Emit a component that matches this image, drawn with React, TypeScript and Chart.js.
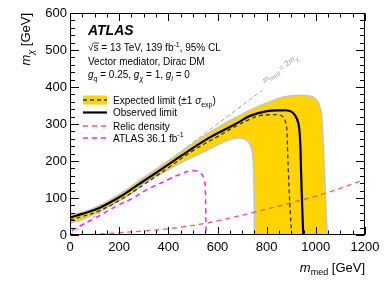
import React, { useEffect, useRef } from 'react';
import { Chart, registerables } from 'chart.js';
Chart.register(...registerables);

const FONT = '"Liberation Sans", Arial, Helvetica, sans-serif';

// Axis ticks
const xTickValues = [0, 200, 400, 600, 800, 1000, 1200];
const yTickValues = [0, 100, 200, 300, 400, 500, 600];
const xMinorStep = 50;
const yMinorStep = 20;

// Observed limit (m_med, m_chi)
const observedMed = [0, 50, 119, 200, 255, 300, 386, 450, 542, 600, 679, 732, 801, 860, 895, 915, 929, 936, 940, 945, 949];
const observedChi = [47, 57, 73, 102, 126, 146, 184, 213, 253, 275, 302, 322, 335, 337, 335, 324, 302, 257, 170, 68, 0];

// Expected limit
const expectedMed = [0, 50, 119, 200, 300, 400, 500, 600, 680, 732, 773, 820, 854, 867, 877, 882, 885, 889, 893, 897, 902];
const expectedChi = [40, 50, 65, 93, 136, 182, 228, 266, 296, 313, 323, 325, 324, 319, 305, 284, 230, 160, 100, 50, 0];

// +-1 sigma band outline (outer edge, then inner edge back)
const bandMed = [0, 60, 119, 200, 255, 300, 386, 450, 542, 600, 679, 750, 814, 867, 936, 989, 1009, 1020, 1026, 1033, 1038, 1046, 1047, 749, 750, 749, 747, 744, 736, 720, 690, 640, 542, 450, 386, 300, 252, 200, 115, 50, 0];
const bandChi = [54, 63, 79, 110, 134, 155, 194, 224, 266, 290, 319, 343, 360, 373, 378, 373, 359, 338, 303, 211, 122, 0, -15, -15, 0, 100, 170, 210, 240, 256, 262, 255, 224, 195, 171, 140, 113, 93, 62, 42, 31];

// Relic density
const relicMed = [50, 150, 300, 450, 600, 750, 900, 1050, 1200];
const relicChi = [0, 4, 11, 21, 38, 62, 87, 115, 150];

// ATLAS 36.1 fb-1
const prevMed = [8, 50, 100, 200, 255, 300, 400, 450, 502, 532, 545, 550, 552, 553];
const prevChi = [12, 28, 45, 82, 99, 118, 150, 165, 174, 167, 153, 131, 68, 0];

// m_med = 2 m_chi
const diagMed = [0, 780];
const diagChi = [0, 390];

const pts = (xs: number[], ys: number[]) => xs.map((x, i) => ({ x, y: ys[i] }));

type Run = { t: string; i?: boolean; b?: boolean; sub?: boolean; sup?: boolean; bar?: boolean };

function drawRich(ctx: CanvasRenderingContext2D, runs: Run[], x: number, y: number, size: number, color: string, align: 'left' | 'right' = 'left') {
  const font = (r: Run) => `${r.i ? 'italic ' : ''}${r.b ? 'bold ' : ''}${r.sub || r.sup ? Math.round(size * 0.72) : size}px ${FONT}`;
  let w = 0;
  for (const r of runs) { ctx.font = font(r); w += ctx.measureText(r.t).width; }
  let cx = align === 'right' ? x - w : x;
  ctx.fillStyle = color;
  ctx.textBaseline = 'alphabetic';
  ctx.textAlign = 'left';
  for (const r of runs) {
    ctx.font = font(r);
    const dy = r.sub ? size * 0.3 : r.sup ? -size * 0.42 : 0;
    ctx.fillText(r.t, cx, y + dy);
    const rw = ctx.measureText(r.t).width;
    if (r.bar) {
      ctx.strokeStyle = color; ctx.lineWidth = 0.8;
      ctx.beginPath(); ctx.moveTo(cx, y - size * 0.8); ctx.lineTo(cx + rw + 0.5, y - size * 0.8); ctx.stroke();
    }
    cx += rw;
  }
}

const bandFillPlugin = {
  id: 'bandFill',
  beforeDatasetDraw(chart: any, args: any) {
    const ds = chart.data.datasets[args.index];
    if (!ds.bandFill) return;
    const line = args.meta.dataset;
    const ctx = chart.ctx as CanvasRenderingContext2D;
    const a = chart.chartArea;
    line.updateControlPoints(a, 'x');
    ctx.save();
    ctx.beginPath();
    ctx.rect(a.left, a.top, a.right - a.left, a.bottom - a.top);
    ctx.clip();
    ctx.beginPath();
    line.path(ctx);
    ctx.closePath();
    ctx.fillStyle = ds.bandFill;
    ctx.fill();
    ctx.restore();
  },
};

const frameTicksPlugin = {
  id: 'frameTicks',
  afterDatasetsDraw(chart: any) {
    const ctx = chart.ctx as CanvasRenderingContext2D;
    const a = chart.chartArea;
    const xs = chart.scales.x, ys = chart.scales.y;
    ctx.save();
    ctx.strokeStyle = '#000';
    ctx.lineWidth = 1;
    const seg = (x1: number, y1: number, x2: number, y2: number) => { ctx.beginPath(); ctx.moveTo(x1, y1); ctx.lineTo(x2, y2); ctx.stroke(); };
    const L = Math.round(a.left) + 0.5, R = Math.round(a.right) - 0.5, T = Math.round(a.top) + 0.5, B = Math.round(a.bottom) - 0.5;
    for (let v = xs.min; v <= xs.max; v += xMinorStep) {
      const px = Math.round(xs.getPixelForValue(v)) + 0.5;
      const len = xTickValues.includes(v) ? 7.5 : 4;
      seg(px, B, px, B - len);
      seg(px, T, px, T + len);
    }
    for (let v = ys.min; v <= ys.max; v += yMinorStep) {
      const py = Math.round(ys.getPixelForValue(v)) + 0.5;
      const len = yTickValues.includes(v) ? 8.5 : 4.5;
      seg(L, py, L + len, py);
      seg(R, py, R - len, py);
    }
    ctx.strokeRect(L, T, R - L, B - T);
    ctx.restore();
  },
  afterDraw(chart: any) {
    const ctx = chart.ctx as CanvasRenderingContext2D;
    const a = chart.chartArea;
    const xs = chart.scales.x, ys = chart.scales.y;
    ctx.save();
    // Axis titles
    drawRich(ctx, [{ t: 'm', i: true }, { t: 'med', sub: true }, { t: ' [GeV]' }], a.right, 271.5, 13, '#000', 'right');
    ctx.save();
    ctx.translate(30, a.top);
    ctx.rotate(-Math.PI / 2);
    drawRich(ctx, [{ t: 'm', i: true }, { t: 'χ', i: true, sub: true }, { t: ' [GeV]' }], 0, 0, 13, '#000', 'right');
    ctx.restore();

    // ATLAS label block
    const tx = 88;
    drawRich(ctx, [{ t: 'ATLAS', i: true, b: true }], tx, 35, 14, '#000');
    drawRich(ctx, [{ t: '√' }, { t: 's', bar: true }, { t: ' = 13 TeV, 139 fb' }, { t: '-1', sup: true }, { t: ', 95% CL' }], tx, 51, 10, '#000');
    drawRich(ctx, [{ t: 'Vector mediator, Dirac DM' }], tx, 64.5, 10, '#000');
    drawRich(ctx, [
      { t: 'g', i: true }, { t: 'q', i: true, sub: true }, { t: ' = 0.25, ' },
      { t: 'g', i: true }, { t: 'χ', i: true, sub: true }, { t: ' = 1, ' },
      { t: 'g', i: true }, { t: 'l', i: true, sub: true }, { t: ' = 0' },
    ], tx, 77.5, 10, '#000');

    // Legend
    const lx0 = 83, lx1 = 107, ttx = 113;
    const dashLine = (y: number, color: string, w: number, dash: number[]) => {
      ctx.save(); ctx.strokeStyle = color; ctx.lineWidth = w; ctx.setLineDash(dash);
      ctx.beginPath(); ctx.moveTo(lx0, y); ctx.lineTo(lx1, y); ctx.stroke(); ctx.restore();
    };
    ctx.fillStyle = '#ffd400';
    ctx.fillRect(lx0, 95.5, lx1 - lx0, 9);
    dashLine(100, '#333', 1.3, [4, 3]);
    drawRich(ctx, [{ t: 'Expected limit (±1 ' }, { t: 'σ', i: true }, { t: 'exp', sub: true }, { t: ')' }], ttx, 103.5, 10, '#000');
    dashLine(112.5, '#000', 2.2, []);
    drawRich(ctx, [{ t: 'Observed limit' }], ttx, 116, 10, '#000');
    dashLine(126, '#ff5a5a', 1.3, [5, 4]);
    drawRich(ctx, [{ t: 'Relic density' }], ttx, 129.5, 10, '#000');
    dashLine(138, '#ff22ff', 1.5, [5, 4]);
    drawRich(ctx, [{ t: 'ATLAS 36.1 fb' }, { t: '-1', sup: true }], ttx, 141.5, 10, '#000');

    // Diagonal label
    const p0x = xs.getPixelForValue(diagMed[0]), p0y = ys.getPixelForValue(diagChi[0]);
    const p1x = xs.getPixelForValue(diagMed[1]), p1y = ys.getPixelForValue(diagChi[1]);
    const ang = Math.atan2(p1y - p0y, p1x - p0x);
    ctx.save();
    ctx.translate(xs.getPixelForValue(792), ys.getPixelForValue(410));
    ctx.rotate(ang);
    drawRich(ctx, [{ t: 'm', i: true }, { t: 'med', sub: true }, { t: ' = 2' }, { t: 'm', i: true }, { t: 'χ', i: true, sub: true }], 0, 0, 8, '#9a9a9a');
    ctx.restore();
    ctx.restore();
  },
};

export default function App() {
  const ref = useRef<HTMLCanvasElement>(null);
  useEffect(() => {
    const canvas = ref.current!;
    const common = { showLine: true, pointRadius: 0, pointHoverRadius: 0, fill: false, tension: 0.4 };
    const tickFont = { family: FONT, size: 13 };
    const chart = new Chart(canvas, {
      type: 'scatter',
      data: {
        datasets: [
          { ...common, label: 'Observed limit', data: pts(observedMed, observedChi), borderColor: '#000', borderWidth: 2.2, order: 0 },
          { ...common, label: 'Expected limit', data: pts(expectedMed, expectedChi), borderColor: '#333', borderWidth: 1.3, borderDash: [4, 3], order: 1 },
          { ...common, label: 'Relic density', data: pts(relicMed, relicChi), borderColor: '#ff5a5a', borderWidth: 1.3, borderDash: [5, 4], order: 2 },
          { ...common, label: 'ATLAS 36.1 fb-1', data: pts(prevMed, prevChi), borderColor: '#ff22ff', borderWidth: 1.5, borderDash: [5, 4], order: 3 },
          { ...common, label: 'band', data: pts(bandMed, bandChi), borderColor: '#c4c4c4', borderWidth: 1.5, bandFill: '#ffd400', order: 4 } as any,
          { ...common, tension: 0, label: 'diag', data: pts(diagMed, diagChi), borderColor: '#a0a0a0', borderWidth: 1, borderDash: [4, 3], order: 5 },
        ],
      },
      options: {
        responsive: false,
        animation: false,
        events: [],
        layout: { padding: { left: 0, top: 13, right: 26, bottom: 0 } },
        scales: {
          x: {
            type: 'linear', min: 0, max: 1200,
            afterBuildTicks: (s: any) => { s.ticks = xTickValues.map((v) => ({ value: v })); },
            afterFit: (s: any) => { s.height = 48; },
            grid: { display: false, drawTicks: false },
            border: { display: false },
            ticks: { font: tickFont, color: '#000', padding: 5, maxRotation: 0, autoSkip: false, callback: (v: any) => String(v) },
          },
          y: {
            type: 'linear', min: 0, max: 600,
            afterBuildTicks: (s: any) => { s.ticks = yTickValues.map((v) => ({ value: v })); },
            afterFit: (s: any) => { s.width = 70; },
            grid: { display: false, drawTicks: false },
            border: { display: false },
            ticks: { font: tickFont, color: '#000', padding: 3, autoSkip: false, callback: (v: any) => String(v) },
          },
        },
        plugins: { legend: { display: false }, tooltip: { enabled: false } },
      },
      plugins: [bandFillPlugin, frameTicksPlugin],
    } as any);
    return () => chart.destroy();
  }, []);
  return (
    <div style={{ position: 'fixed', left: 0, top: 0, width: 391, height: 283, background: '#fff' }}>
      <canvas ref={ref} width={391} height={283} style={{ display: 'block', width: 391, height: 283 }} />
    </div>
  );
}
